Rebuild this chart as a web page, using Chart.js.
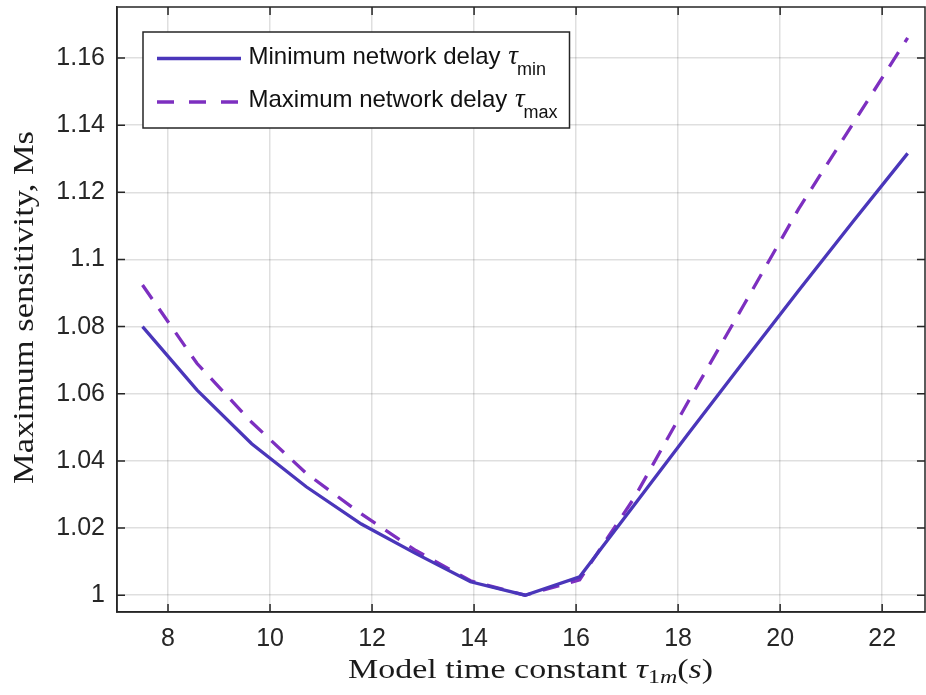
<!DOCTYPE html>
<html>
<head>
<meta charset="utf-8">
<script src="https://cdn.jsdelivr.net/npm/chart.js@4"></script>
<style>
    html, body { margin: 0; padding: 0; background: #ffffff; }
    canvas { display: block; }
</style>
</head>
<body>
<canvas id="chart" width="926" height="695"></canvas>
<script>
// model time constant tau_1m (s)
const tau = [7.5, 8.57, 9.64, 10.71, 11.79, 12.86, 13.93, 15, 16.07, 17.14, 18.21, 19.29, 20.36, 21.43, 22.5];
// maximum sensitivity Ms
const msMinDelay = [1.0800, 1.0611, 1.0451, 1.0323, 1.0212, 1.0124, 1.0040, 1.0000, 1.0055, 1.0269, 1.0483, 1.0697, 1.0907, 1.1113, 1.1316];
const msMaxDelay = [1.0924, 1.0690, 1.0515, 1.0363, 1.0242, 1.0133, 1.0043, 1.0000, 1.0046, 1.0290, 1.0580, 1.0865, 1.1150, 1.1405, 1.1660];

const seriesNames = ["Minimum network delay", "Maximum network delay"];
const seriesSubs = ["min", "max"];

const xTicks = [8, 10, 12, 14, 16, 18, 20, 22];
const yTicks = [1, 1.02, 1.04, 1.06, 1.08, 1.1, 1.12, 1.14, 1.16];

const AXIS = "#262626";
const SOLID = "#4a36ba";
const DASHED = "#7d2fc0";
const DASH = [17, 12];
const SANS = "\"Liberation Sans\", Arial, sans-serif";
const SERIF = "\"Liberation Serif\", \"Times New Roman\", serif";

// draw a run of text pieces scaled along the run to fit a given length
const drawRun = (ctx, pieces, length) => {
    let total = 0;
    pieces.forEach((p) => {
        ctx.font = p.font;
        p.w = ctx.measureText(p.text).width;
        total += p.w;
    });
    ctx.scale(length / total, 1);
    let x = 0;
    pieces.forEach((p) => {
        ctx.font = p.font;
        ctx.fillText(p.text, x, p.dy || 0);
        x += p.w;
    });
};

const frame = {
    id: "frame",
    afterDraw(chart) {
        const { ctx, chartArea, scales } = chart;
        const { left, right, top, bottom } = chartArea;

        ctx.save();
        ctx.strokeStyle = AXIS;
        ctx.lineWidth = 1.5;
        ctx.strokeRect(left, top, right - left, bottom - top);

        // inward tick marks on all four sides
        ctx.beginPath();
        xTicks.forEach((v) => {
            const px = scales.x.getPixelForValue(v);
            ctx.moveTo(px, bottom); ctx.lineTo(px, bottom - 8);
            ctx.moveTo(px, top); ctx.lineTo(px, top + 8);
        });
        yTicks.forEach((v) => {
            const py = scales.y.getPixelForValue(v);
            ctx.moveTo(left, py); ctx.lineTo(left + 8, py);
            ctx.moveTo(right, py); ctx.lineTo(right - 8, py);
        });
        ctx.stroke();

        // legend
        const lx = left + 26, ly = top + 25, lw = 426.5, lh = 96;
        ctx.fillStyle = "#ffffff";
        ctx.fillRect(lx, ly, lw, lh);
        ctx.strokeStyle = AXIS;
        ctx.strokeRect(lx, ly, lw, lh);

        const rows = [ly + 26.5, ly + 70];
        const colors = [SOLID, DASHED];
        rows.forEach((ry, i) => {
            ctx.strokeStyle = colors[i];
            ctx.lineWidth = 3.3;
            ctx.setLineDash(i === 1 ? [17, 15] : []);
            ctx.beginPath();
            ctx.moveTo(lx + 14, ry);
            ctx.lineTo(lx + 98, ry);
            ctx.stroke();
            ctx.setLineDash([]);

            const base = ry + 5;
            let tx = lx + 105.5;
            ctx.fillStyle = "#111111";
            ctx.font = "24px " + SANS;
            ctx.fillText(seriesNames[i], tx, base);
            tx += ctx.measureText(seriesNames[i] + " ").width + 1;
            ctx.font = "italic 27px " + SERIF;
            ctx.fillText("\u03C4", tx, base);
            tx += ctx.measureText("\u03C4").width - 1;
            ctx.font = "18px " + SANS;
            ctx.fillText(seriesSubs[i], tx, base + 11);
        });

        // axis titles
        ctx.fillStyle = "#1a1a1a";
        ctx.save();
        ctx.translate(348, 678);
        drawRun(ctx, [
            { text: "Model time constant ", font: "27px " + SERIF },
            { text: "\u03C4", font: "italic 27px " + SERIF },
            { text: "1", font: "19px " + SERIF, dy: 5 },
            { text: "m", font: "italic 19px " + SERIF, dy: 5 },
            { text: "(", font: "27px " + SERIF },
            { text: "s", font: "italic 27px " + SERIF },
            { text: ")", font: "27px " + SERIF }
        ], 365);
        ctx.restore();

        ctx.save();
        ctx.translate(33, 484);
        ctx.rotate(-Math.PI / 2);
        drawRun(ctx, [{ text: "Maximum sensitivity, Ms", font: "29px " + SERIF }], 353);
        ctx.restore();

        ctx.restore();
    }
};

const grid = { color: "rgba(38,38,38,0.15)", lineWidth: 1.5, drawTicks: false };
const border = { display: true, color: AXIS, width: 1.5 };

new Chart(document.getElementById("chart"), {
    type: "line",
    data: {
        datasets: [
            {
                label: seriesNames[0],
                data: tau.map((x, i) => ({ x, y: msMinDelay[i] })),
                borderColor: SOLID,
                borderWidth: 3.3,
                pointRadius: 0,
                tension: 0,
                fill: false
            },
            {
                label: seriesNames[1],
                data: tau.map((x, i) => ({ x, y: msMaxDelay[i] })),
                borderColor: DASHED,
                borderWidth: 3.3,
                borderDash: DASH,
                pointRadius: 0,
                tension: 0,
                fill: false
            }
        ]
    },
    options: {
        responsive: false,
        animation: false,
        layout: { padding: { top: 7, right: 1, left: 0, bottom: 0 } },
        plugins: { legend: { display: false }, tooltip: { enabled: false } },
        scales: {
            x: {
                type: "linear",
                min: 7,
                max: 22.84,
                afterBuildTicks: (s) => { s.ticks = xTicks.map((v) => ({ value: v })); },
                afterFit: (s) => { s.height = 83; s.paddingLeft = 0; s.paddingRight = 0; },
                grid,
                border,
                ticks: {
                    padding: 12,
                    color: AXIS,
                    autoSkip: false,
                    maxRotation: 0,
                    font: { family: SANS, size: 25 }
                }
            },
            y: {
                type: "linear",
                min: 0.995,
                max: 1.1752,
                afterBuildTicks: (s) => { s.ticks = yTicks.map((v) => ({ value: v })); },
                afterFit: (s) => { s.width = 117; s.paddingTop = 0; s.paddingBottom = 0; },
                grid,
                border,
                ticks: {
                    padding: 12,
                    color: AXIS,
                    autoSkip: false,
                    font: { family: SANS, size: 25 },
                    callback: (v) => String(Number(v.toFixed(2)))
                }
            }
        }
    },
    plugins: [frame]
});
</script>
</body>
</html>
